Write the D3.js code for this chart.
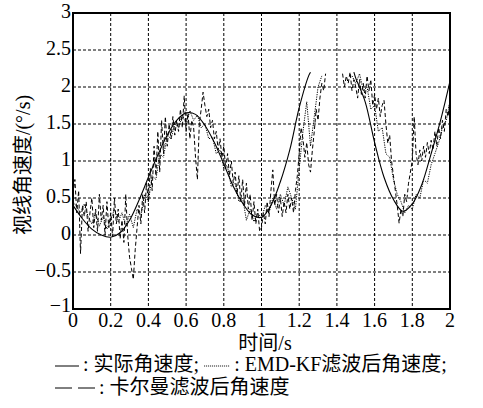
<!DOCTYPE html>
<html>
<head>
<meta charset="utf-8">
<script src="https://cdn.jsdelivr.net/npm/d3@7"></script>
<style>
  body { margin: 0; background: #fff; }
  svg { display: block; }
</style>
</head>
<body>
<div id="chart"></div>
<script>
// tick labels
var xTicks = [0, 0.2, 0.4, 0.6, 0.8, 1, 1.2, 1.4, 1.6, 1.8, 2];
var yTicks = [-1, -0.5, 0, 0.5, 1, 1.5, 2, 2.5, 3];

// actual angular velocity (null = outside the printed range)
var actualT = [0, 0.05, 0.1, 0.15, 0.2, 0.25, 0.3, 0.35, 0.4, 0.45, 0.5, 0.55, 0.6, 0.65, 0.7, 0.75,
  0.8, 0.85, 0.9, 0.95, 1, 1.05, 1.1, 1.15, 1.2, 1.25, 1.26, 1.3, 1.49, 1.5, 1.55, 1.6, 1.65,
  1.7, 1.75, 1.8, 1.85, 1.9, 1.95, 2];
var actualV = [0.40, 0.22, 0.08, 0.0, -0.03, 0.03, 0.20, 0.47, 0.78, 1.08, 1.35, 1.55, 1.65, 1.63, 1.48, 1.25,
  0.96, 0.66, 0.43, 0.27, 0.24, 0.40, 0.72, 1.15, 1.72, 2.15, 2.2, null, 2.2, 2.12, 1.80, 1.25, 0.78,
  0.48, 0.32, 0.42, 0.68, 1.10, 1.55, 2.08];

// EMD-KF filtered, every 0.02 s
var emdV = [0.45, 0.38, 0.30, 0.42, 0.25, 0.15, 0.30, 0.12, 0.25, 0.08,
  0.20, 0.35, 0.18, 0.30, 0.12, 0.28, 0.10, 0.35, 0.25, 0.55,
  0.45, 0.80, 0.75, 1.10, 1.05, 1.35, 1.30, 1.50, 1.45, 1.62,
  1.50, 1.68, 1.55, 1.62, 1.45, 1.50, 1.30, 1.32, 1.10, 1.15,
  0.90, 0.92, 0.65, 0.70, 0.45, 0.50, 0.20, 0.35, 0.18, 0.30,
  0.22, 0.40, 0.30, 0.50, 0.35, 0.55, 0.40, 0.65, 0.50, 0.35,
  0.90, 1.40, 1.80, 1.20, 1.60, 2.00, 2.15, null, null, null,
  null, null, null, null, 2.15, 2.05, 2.18, 1.95, 2.00, 1.70,
  1.75, 1.40, 1.45, 1.10, 1.05, 0.75, 0.55, 0.45, 0.30, 0.40,
  0.35, 0.55, 0.50, 0.75, 0.70, 0.95, 1.10, 1.25, 1.45, 1.55,
  1.80];

// Kalman filtered, every 0.01 s
var kalmanV = [0.55, 0.75, 0.30, 0.60, -0.25, 0.40, 0.25, 0.45, 0.05, 0.30,
  0.50, 0.10, 0.35, 0.05, 0.55, 0.20, 0.40, 0.00, 0.45, 0.10,
  0.30, -0.02, 0.50, 0.15, 0.35, -0.05, 0.20, -0.10, 0.55, 0.00,
  -0.30, -0.45, -0.60, -0.20, 0.10, 0.40, 0.15, 0.55, 0.30, 0.70,
  0.45, 0.90, 0.60, 1.20, 0.80, 1.40, 0.85, 1.55, 1.10, 1.60,
  1.20, 1.50, 1.30, 1.60, 1.35, 1.55, 1.40, 1.70, 1.45, 1.88,
  1.40, 1.65, 1.30, 1.55, 1.45, 1.05, 0.75, 1.50, 1.70, 1.93,
  1.75, 1.60, 1.70, 1.45, 1.55, 1.30, 1.40, 1.15, 1.30, 1.05,
  1.20, 0.90, 1.10, 0.80, 1.00, 0.70, 0.85, 0.55, 0.80, 0.45,
  0.75, 0.40, 0.70, 0.35, 0.55, 0.20, 0.45, 0.15, 0.35, 0.05,
  0.10, 0.30, 0.15, 0.45, 0.25, 0.60, 0.88, 0.40, 0.55, 0.30,
  0.50, 0.25, 0.45, 0.30, 0.55, 0.35, 0.50, 0.30, 0.60, 0.80,
  1.10, 1.45, 1.30, 1.05, 1.25, 0.95, 0.85, 1.15, 1.40, 1.70,
  1.55, 1.85, 2.05, 1.95, 2.18, null, null, null, null, null,
  null, null, null, 2.18, 2.00, 2.15, 2.05, 2.20, 1.95, 2.10,
  2.00, 1.85, 2.10, 1.90, 2.05, 1.85, 2.15, 1.95, 2.10, 1.75,
  1.90, 1.70, 1.85, 1.60, 1.75, 1.82, 1.50, 1.24, 1.35, 1.00,
  0.80, 0.60, 0.40, 0.16, 0.35, 0.25, 0.55, 0.45, 0.70, 0.85,
  1.01, 1.60, 1.10, 0.95, 1.15, 1.00, 1.20, 1.05, 1.25, 1.10,
  1.28, 1.15, 1.40, 1.20, 1.45, 1.30, 1.55, 1.40, 1.70, 1.60,
  1.85];

var FONT = '"Liberation Serif", "Times New Roman", "DejaVu Serif", "Noto Sans CJK SC", serif';

var W = 483, H = 408;
var margin = {left: 73, top: 13, right: 33, bottom: 99};
var w = W - margin.left - margin.right;
var h = H - margin.top - margin.bottom;

var svg = d3.select("#chart").append("svg")
  .attr("width", W)
  .attr("height", H)
  .style("font-family", FONT);

var x = d3.scaleLinear().domain([0, 2]).range([0, w]);
var y = d3.scaleLinear().domain([-1, 3]).range([h, 0]);

var g = svg.append("g")
  .attr("transform", "translate(" + margin.left + "," + margin.top + ")");

// grid
g.selectAll(".gx")
  .data(xTicks.slice(1, -1))
  .enter().append("line")
  .attr("x1", function(d) { return x(d); })
  .attr("x2", function(d) { return x(d); })
  .attr("y1", 0).attr("y2", h)
  .attr("stroke", "#000").attr("stroke-width", 1)
  .attr("stroke-dasharray", "3,2");

g.selectAll(".gy")
  .data(yTicks.slice(1, -1))
  .enter().append("line")
  .attr("y1", function(d) { return y(d); })
  .attr("y2", function(d) { return y(d); })
  .attr("x1", 0).attr("x2", w)
  .attr("stroke", "#000").attr("stroke-width", 1)
  .attr("stroke-dasharray", "3,2");

// series
var actual = actualT.map(function(t, i) { return {t: t, v: actualV[i]}; });
var emd = emdV.map(function(v, i) { return {t: i * 0.02, v: v}; });
var kalman = kalmanV.map(function(v, i) { return {t: i * 0.01, v: v}; });

var smooth = d3.line()
  .defined(function(d) { return d.v !== null; })
  .x(function(d) { return x(d.t); })
  .y(function(d) { return y(d.v); })
  .curve(d3.curveCatmullRom);

var jag = d3.line()
  .defined(function(d) { return d.v !== null; })
  .x(function(d) { return x(d.t); })
  .y(function(d) { return y(d.v); });

g.append("path").datum(kalman)
  .attr("d", jag)
  .attr("fill", "none").attr("stroke", "#000").attr("stroke-width", 1)
  .attr("stroke-dasharray", "4,2.5");

g.append("path").datum(emd)
  .attr("d", jag)
  .attr("fill", "none").attr("stroke", "#000").attr("stroke-width", 1)
  .attr("stroke-dasharray", "1.2,1.2");

g.append("path").datum(actual)
  .attr("d", smooth)
  .attr("fill", "none").attr("stroke", "#000").attr("stroke-width", 1.1);

// frame
g.append("rect")
  .attr("width", w).attr("height", h)
  .attr("fill", "none").attr("stroke", "#000").attr("stroke-width", 2);

// tick labels
g.selectAll(".xl")
  .data(xTicks)
  .enter().append("text")
  .attr("x", function(d) { return x(d); })
  .attr("y", h + 18)
  .attr("text-anchor", "middle")
  .style("font-size", "20px")
  .text(function(d) { return d; });

g.selectAll(".yl")
  .data(yTicks)
  .enter().append("text")
  .attr("x", -2)
  .attr("y", function(d) { return y(d) + (d === -1 ? 3 : 5); })
  .attr("text-anchor", "end")
  .style("font-size", "20px")
  .text(function(d) { return d < 0 ? "\u2212" + (-d) : d; });

// axis titles
svg.append("text")
  .attr("x", 265).attr("y", 350)
  .attr("text-anchor", "middle")
  .style("font-size", "20px")
  .text("时间/s");

svg.append("text")
  .attr("transform", "translate(30,165) rotate(-90)")
  .attr("text-anchor", "middle")
  .style("font-size", "20px")
  .text("视线角速度/(°/s)");

// legend, laid out piece by piece
var leg = svg.append("g").style("font-size", "20px");
var cx = 55;
function sample(y0, len, dash) {
  leg.append("line")
    .attr("x1", cx).attr("x2", cx + len).attr("y1", y0).attr("y2", y0)
    .attr("stroke", "#000").attr("stroke-width", 1)
    .attr("stroke-dasharray", dash);
  cx += len + 4;
}
function label(y0, s) {
  var t = leg.append("text").attr("x", cx).attr("y", y0).text(s);
  cx += t.node().getComputedTextLength() + 5;
}
sample(366, 24, null);
label(371, ": 实际角速度;");
sample(366, 26, "1,1");
label(371, ": EMD-KF滤波后角速度;");
cx = 55;
sample(388, 40, "17,6");
label(394, ": 卡尔曼滤波后角速度");
</script>
</body>
</html>
